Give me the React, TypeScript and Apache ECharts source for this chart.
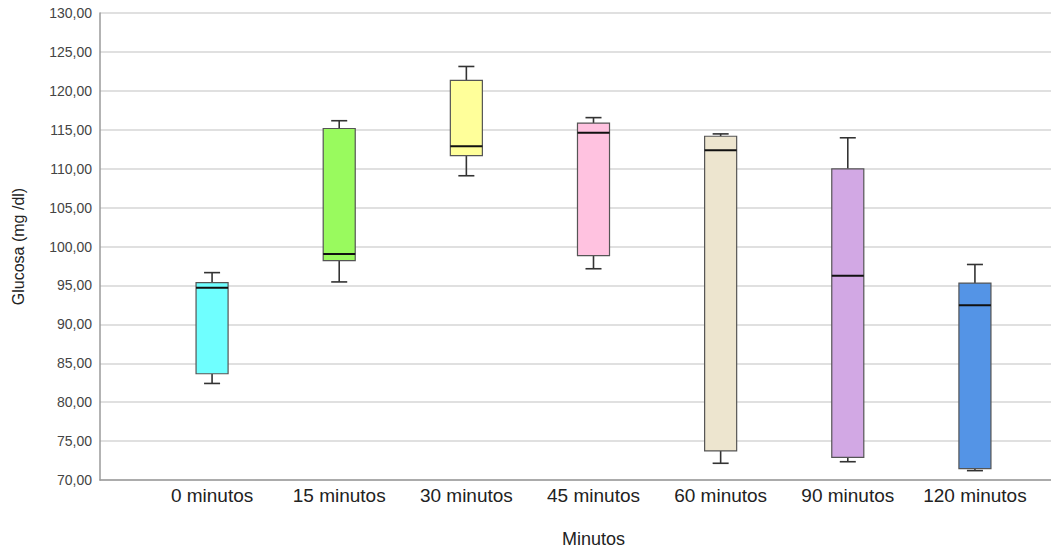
import React, { useEffect, useRef } from "react";
import * as echarts from "echarts";

const categories = ["0 minutos", "15 minutos", "30 minutos", "45 minutos", "60 minutos", "90 minutos", "120 minutos"];
const minVals = [82.2, 95.3, 109.0, 97.0, 71.9, 72.1, 70.95];
const q1Vals = [83.45, 98.05, 111.6, 98.7, 73.5, 72.65, 71.2];
const medianVals = [94.55, 98.9, 112.8, 114.55, 112.3, 96.1, 92.3];
const q3Vals = [95.2, 115.1, 121.3, 115.8, 114.1, 109.9, 95.15];
const maxVals = [96.5, 116.1, 123.1, 116.5, 114.4, 113.9, 97.55];
const boxColors = ["#6FFFFF", "#99FA5E", "#FFFF9A", "#FFC2E0", "#EDE5CF", "#D2A8E4", "#5494E6"];

const Y_MIN = 70;
const Y_MAX = 130;
const Y_STEP = 5;

export default function App() {
  const ref = useRef<HTMLDivElement>(null);
  useEffect(() => {
    if (!ref.current) return;
    const chart = echarts.init(ref.current, undefined, { renderer: "svg" });
    const data = categories.map((_, i) => [i, minVals[i], q1Vals[i], medianVals[i], q3Vals[i], maxVals[i]]);
    const option: any = {
      animation: false,
      backgroundColor: "#ffffff",
      grid: [
        { left: 100, right: 0, top: 13, bottom: 73 },
        { left: 148.5, width: 890, top: 13, bottom: 73 },
      ],
      xAxis: [
        {
          gridIndex: 0,
          type: "value",
          min: 0,
          max: 1,
          axisLine: { show: true, onZero: false, lineStyle: { color: "#9a9a9a", width: 1.5 } },
          axisTick: { show: false },
          axisLabel: { show: false },
          splitLine: { show: false },
        },
        {
          gridIndex: 1,
          type: "category",
          data: categories,
          axisLine: { show: false },
          axisTick: { show: false },
          axisLabel: {
            color: "#222",
            fontSize: 19,
            fontFamily: "Liberation Sans, Arial, sans-serif",
            margin: 8,
            interval: 0,
          },
          name: "Minutos",
          nameLocation: "middle",
          nameGap: 52,
          nameTextStyle: { color: "#222", fontSize: 18, fontFamily: "Liberation Sans, Arial, sans-serif" },
        },
      ],
      yAxis: [
        {
          gridIndex: 0,
          type: "value",
          min: Y_MIN,
          max: Y_MAX,
          interval: Y_STEP,
          axisLine: { show: true, lineStyle: { color: "#9a9a9a", width: 1.5 } },
          axisTick: { show: false },
          axisLabel: {
            color: "#444",
            fontSize: 14,
            fontFamily: "Liberation Sans, Arial, sans-serif",
            margin: 8,
            formatter: (v: number) => v.toFixed(2).replace(".", ","),
          },
          splitLine: { show: true, lineStyle: { color: "#d6d6d6", width: 1.5 } },
          name: "Glucosa (mg /dl)",
          nameLocation: "middle",
          nameGap: 74,
          nameTextStyle: { color: "#222", fontSize: 16, fontFamily: "Liberation Sans, Arial, sans-serif" },
        },
        {
          gridIndex: 1,
          type: "value",
          min: Y_MIN,
          max: Y_MAX,
          interval: Y_STEP,
          show: false,
          splitLine: { show: false },
        },
      ],
      series: [
        {
          type: "custom",
          xAxisIndex: 1,
          yAxisIndex: 1,
          data,
          renderItem: (params: any, api: any) => {
            const idx = api.value(0);
            const pMin = api.coord([idx, api.value(1)]);
            const pQ1 = api.coord([idx, api.value(2)]);
            const pMed = api.coord([idx, api.value(3)]);
            const pQ3 = api.coord([idx, api.value(4)]);
            const pMax = api.coord([idx, api.value(5)]);
            const band = api.size([1, 0])[0];
            const bw = band * 0.252;
            const cw = bw / 2;
            const cx = pMed[0];
            const wStyle = { stroke: "#333", lineWidth: 1.6, fill: null };
            return {
              type: "group",
              children: [
                { type: "line", shape: { x1: cx, y1: pMax[1], x2: cx, y2: pQ3[1] }, style: wStyle },
                { type: "line", shape: { x1: cx, y1: pMin[1], x2: cx, y2: pQ1[1] }, style: wStyle },
                { type: "line", shape: { x1: cx - cw / 2, y1: pMax[1], x2: cx + cw / 2, y2: pMax[1] }, style: wStyle },
                { type: "line", shape: { x1: cx - cw / 2, y1: pMin[1], x2: cx + cw / 2, y2: pMin[1] }, style: wStyle },
                {
                  type: "rect",
                  shape: { x: cx - bw / 2, y: pQ3[1], width: bw, height: pQ1[1] - pQ3[1] },
                  style: { fill: boxColors[idx], stroke: "#555", lineWidth: 1.2 },
                },
                { type: "line", shape: { x1: cx - bw / 2, y1: pMed[1], x2: cx + bw / 2, y2: pMed[1] }, style: { stroke: "#111", lineWidth: 2 } },
              ],
            };
          },
        },
      ],
    };
    chart.setOption(option);
    return () => chart.dispose();
  }, []);
  return <div ref={ref} style={{ position: "fixed", left: 0, top: 0, width: 1051, height: 553 }} />;
}
